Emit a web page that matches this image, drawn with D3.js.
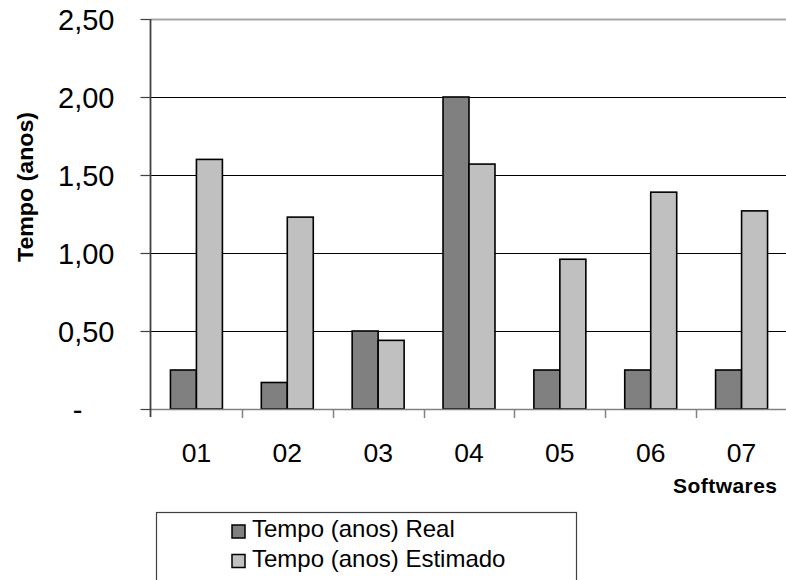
<!DOCTYPE html>
<html>
<head>
<meta charset="utf-8">
<script src="https://cdn.jsdelivr.net/npm/d3@7"></script>
<style>
  html, body { margin: 0; padding: 0; background: #fff; }
  svg { display: block; font-family: "Liberation Sans", Arial, sans-serif; }
</style>
</head>
<body>
<svg id="chart" width="786" height="580"></svg>
<script>
// Software projects and their durations in years
const categories = ["01", "02", "03", "04", "05", "06", "07"];
const realValues = [0.25, 0.17, 0.50, 2.00, 0.25, 0.25, 0.25];
const estimatedValues = [1.60, 1.23, 0.44, 1.57, 0.96, 1.39, 1.27];
const yTicks = [0, 0.5, 1.0, 1.5, 2.0, 2.5];
const seriesNames = ["Tempo (anos) Real", "Tempo (anos) Estimado"];
const seriesColors = ["#808080", "#c0c0c0"];
const yTitle = "Tempo (anos)";
const xTitle = "Softwares";

const svg = d3.select("#chart");
svg.append("rect").attr("width", 786).attr("height", 580).attr("fill", "#fff");

const plot = { left: 151, right: 787, top: 19, bottom: 409 };

const y = d3.scaleLinear().domain([0, 2.5]).range([plot.bottom, plot.top]);
const x = d3.scaleBand().domain(categories).range([plot.left, plot.right]);
const barW = x.bandwidth() * 0.286;
const groupOffset = (x.bandwidth() - 2 * barW) / 2;

const ptBR = d3.formatLocale({ decimal: ",", thousands: ".", grouping: [3], currency: ["R$", ""] });
const fmt = ptBR.format(".2f");

// Horizontal gridlines
svg.append("g").selectAll("line")
  .data(yTicks.filter(d => d > 0))
  .join("line")
  .attr("x1", plot.left).attr("x2", 786)
  .attr("y1", d => Math.round(y(d)) + 0.5).attr("y2", d => Math.round(y(d)) + 0.5)
  .attr("stroke", d => d === 2.5 ? "#a6a6a6" : "#000")
  .attr("stroke-width", d => d === 2.5 ? 2 : 1);

// Bars
const seriesData = [realValues, estimatedValues];
seriesData.forEach((vals, si) => {
  svg.append("g").selectAll("rect")
    .data(vals)
    .join("rect")
    .attr("x", (d, i) => x(categories[i]) + groupOffset + si * barW)
    .attr("y", d => y(d))
    .attr("width", barW)
    .attr("height", d => y(0) - y(d))
    .attr("fill", seriesColors[si])
    .attr("stroke", "#000")
    .attr("stroke-width", 1.6);
});

// Category axis baseline and boundary ticks
svg.append("line")
  .attr("x1", plot.left).attr("x2", 786)
  .attr("y1", plot.bottom + 0.5).attr("y2", plot.bottom + 0.5)
  .attr("stroke", "#808080").attr("stroke-width", 1.5);
const boundaries = categories.map(c => x(c)).concat([x.range()[1]]).slice(1);
svg.append("g").selectAll("line")
  .data(boundaries)
  .join("line")
  .attr("x1", d => Math.round(d) + 0.5).attr("x2", d => Math.round(d) + 0.5)
  .attr("y1", plot.bottom).attr("y2", plot.bottom + 9)
  .attr("stroke", "#808080").attr("stroke-width", 1.5);

svg.append("g").selectAll("text")
  .data(categories)
  .join("text")
  .attr("x", d => x(d) + x.bandwidth() / 2)
  .attr("y", 462)
  .attr("text-anchor", "middle")
  .attr("font-size", 26.5)
  .attr("fill", "#000")
  .text(d => d);

// Value axis
const yAxis = d3.axisLeft(y)
  .tickValues(yTicks)
  .tickSize(10)
  .tickPadding(26)
  .tickFormat(d => d === 0 ? "-" : fmt(d));
const yg = svg.append("g")
  .attr("transform", `translate(${plot.left - 0.5},0)`)
  .call(yAxis);
yg.select(".domain").remove();
yg.selectAll(".tick line").attr("stroke", "#404040").attr("stroke-width", 1.2);
yg.selectAll(".tick text")
  .attr("font-size", 29)
  .attr("font-family", "Liberation Sans, Arial, sans-serif")
  .attr("fill", "#000")
  .attr("dy", "0.36em")
  .filter(d => d === 0)
  .attr("x", -68);
svg.append("line")
  .attr("x1", plot.left - 0.5).attr("x2", plot.left - 0.5)
  .attr("y1", plot.top).attr("y2", plot.bottom + 8)
  .attr("stroke", "#404040").attr("stroke-width", 1.8);

// Axis titles
svg.append("text")
  .attr("transform", `translate(33,187) rotate(-90)`)
  .attr("text-anchor", "middle")
  .attr("font-size", 22.5)
  .attr("font-weight", "bold")
  .attr("textLength", 150)
  .attr("lengthAdjust", "spacingAndGlyphs")
  .text(yTitle);

svg.append("text")
  .attr("x", 673).attr("y", 493)
  .attr("font-size", 21)
  .attr("font-weight", "bold")
  .attr("textLength", 104)
  .attr("lengthAdjust", "spacing")
  .text(xTitle);

// Legend
const legend = svg.append("g");
legend.append("rect")
  .attr("x", 156.5).attr("y", 512.5)
  .attr("width", 420).attr("height", 90)
  .attr("fill", "#fff").attr("stroke", "#404040").attr("stroke-width", 1.2);
const rows = legend.selectAll("g.row")
  .data(seriesNames)
  .join("g")
  .attr("class", "row")
  .attr("transform", (d, i) => `translate(0,${i * 29.5})`);
rows.append("rect")
  .attr("x", 232).attr("y", 525)
  .attr("width", 13).attr("height", 13)
  .attr("fill", (d, i) => seriesColors[i])
  .attr("stroke", "#000").attr("stroke-width", 1.5);
rows.append("text")
  .attr("x", 252).attr("y", 537)
  .attr("font-size", 24)
  .attr("fill", "#000")
  .text(d => d);
</script>
</body>
</html>
